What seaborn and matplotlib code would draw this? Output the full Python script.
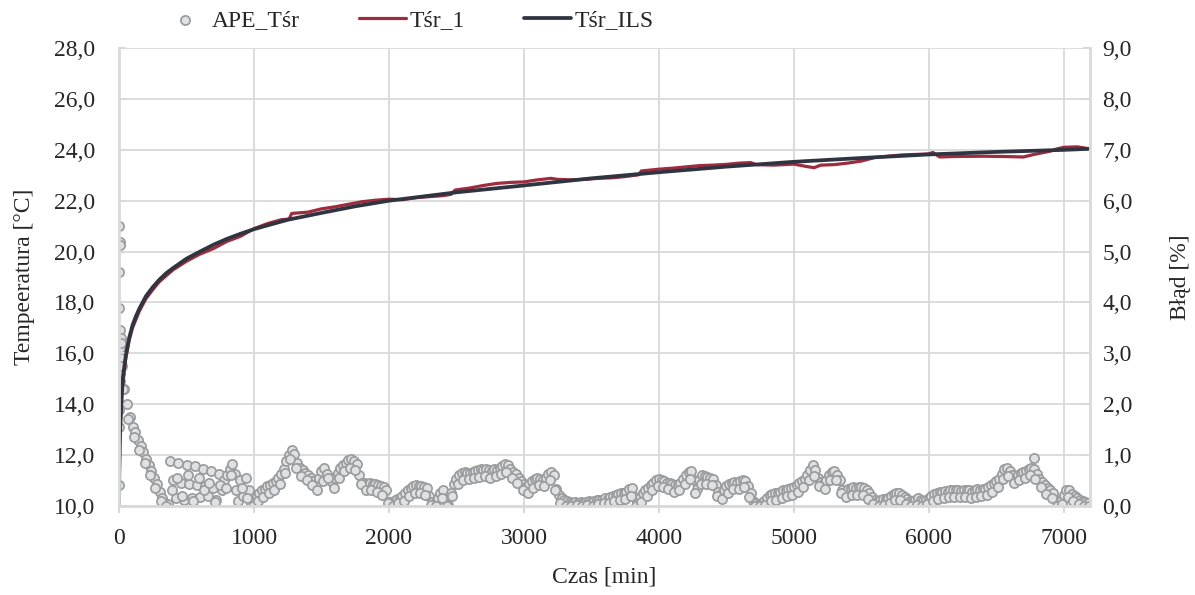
import numpy as np
import pandas as pd
import matplotlib
matplotlib.use('Agg')
import matplotlib.pyplot as plt
from matplotlib.ticker import FuncFormatter, MultipleLocator
import seaborn as sns

# Tśr_1 - measured mean temperature [°C] vs time [min]
t_meas = [0, 2, 5, 10, 20, 30, 50, 75, 100, 150, 200, 250, 300, 400, 500, 600, 700, 800, 900,
          1000, 1100, 1200, 1260, 1280, 1400, 1500, 1600, 1700, 1800, 1900, 2000, 2100, 2200,
          2300, 2400, 2460, 2490, 2600, 2700, 2800, 2900, 3000, 3100, 3200, 3250, 3350, 3450,
          3550, 3650, 3750, 3850, 3870, 4000, 4100, 4200, 4300, 4400, 4500, 4600, 4680, 4720,
          4850, 5000, 5100, 5150, 5200, 5300, 5400, 5500, 5600, 5700, 5800, 5900, 6000, 6030,
          6080, 6200, 6400, 6550, 6700, 6780, 6900, 6950, 7000, 7100, 7180]
temp_meas = [10.0, 11.1, 12.2, 13.1, 14.2, 14.95, 15.8, 16.5, 17.0, 17.65, 18.15, 18.5, 18.82,
             19.28, 19.62, 19.9, 20.12, 20.4, 20.6, 20.9, 21.1, 21.25, 21.28, 21.5, 21.55, 21.68,
             21.76, 21.86, 21.96, 22.02, 22.06, 22.04, 22.12, 22.16, 22.2, 22.25, 22.42, 22.5,
             22.6, 22.68, 22.72, 22.74, 22.82, 22.88, 22.84, 22.82, 22.84, 22.88, 22.9, 22.95,
             23.02, 23.17, 23.24, 23.28, 23.33, 23.38, 23.4, 23.43, 23.48, 23.5, 23.42, 23.4,
             23.44, 23.34, 23.3, 23.4, 23.42, 23.48, 23.56, 23.7, 23.75, 23.8, 23.82, 23.84,
             23.9, 23.72, 23.74, 23.75, 23.74, 23.72, 23.82, 23.95, 24.04, 24.1, 24.12, 24.05]

# Tśr_ILS - model temperature [°C]
t_ils = [0, 1, 2, 5, 10, 20, 30, 50, 75, 100, 125, 150, 200, 250, 300, 350, 400, 500, 600,
         700, 800, 900, 1000, 1100, 1250, 1500, 1750, 2000, 2500, 3000, 3500, 4000, 4500,
         5000, 5500, 6000, 6500, 7000, 7180]
temp_ils = [10.0, 10.6, 11.3, 12.4, 13.3, 14.4, 15.1, 15.9, 16.6, 17.1, 17.45, 17.75, 18.25,
            18.6, 18.9, 19.15, 19.35, 19.72, 20.0, 20.27, 20.5, 20.7, 20.88, 21.03, 21.25,
            21.52, 21.78, 22.0, 22.33, 22.6, 22.88, 23.12, 23.34, 23.53, 23.68, 23.82, 23.92,
            24.0, 24.04]

# APE_Tśr [%] - upper part of the band, every 20 min starting at 20 min
ape = [
    2.75, 2.3, 2.0, 1.75, 1.55, 1.45, 1.3, 1.18, 1.05, 0.92,
    0.8, 0.68, 0.55, 0.42, 0.28, 0.15, 0.05, 0.03, 0.88, 0.5,
    0.15, 0.85, 0.45, 0.12, 0.8, 0.42, 0.15, 0.78, 0.4, 0.18,
    0.72, 0.38, 0.2, 0.68, 0.35, 0.12, 0.62, 0.3, 0.5, 0.6,
    0.72, 0.82, 0.62, 0.1, 0.5, 0.2, 0.55, 0.3, 0.05, 0.08,
    0.18, 0.25, 0.3, 0.32, 0.38, 0.4, 0.45, 0.48, 0.55, 0.62,
    0.72, 0.88, 1.0, 1.1, 1.02, 0.85, 0.75, 0.7, 0.65, 0.6,
    0.55, 0.48, 0.42, 0.55, 0.68, 0.75, 0.62, 0.52, 0.47, 0.55,
    0.65, 0.75, 0.8, 0.85, 0.9, 0.92, 0.88, 0.82, 0.6, 0.45,
    0.44, 0.43, 0.45, 0.42, 0.43, 0.4, 0.38, 0.36, 0.3, 0.08,
    0.04, 0.1, 0.14, 0.16, 0.2, 0.25, 0.3, 0.35, 0.39, 0.4,
    0.39, 0.38, 0.36, 0.35, 0.2, 0.08, 0.06, 0.15, 0.25, 0.3,
    0.12, 0.02, 0.25, 0.42, 0.53, 0.6, 0.65, 0.66, 0.64, 0.65,
    0.66, 0.68, 0.7, 0.72, 0.7, 0.72, 0.7, 0.68, 0.72, 0.7,
    0.74, 0.78, 0.82, 0.8, 0.72, 0.66, 0.62, 0.55, 0.48, 0.42,
    0.39, 0.42, 0.48, 0.52, 0.55, 0.53, 0.5, 0.55, 0.62, 0.66,
    0.6, 0.33, 0.22, 0.15, 0.12, 0.1, 0.08, 0.06, 0.07, 0.06,
    0.07, 0.05, 0.08, 0.1, 0.08, 0.1, 0.12, 0.11, 0.12, 0.15,
    0.14, 0.18, 0.2, 0.22, 0.24, 0.26, 0.25, 0.28, 0.32, 0.35,
    0.18, 0.06, 0.15, 0.25, 0.3, 0.35, 0.4, 0.45, 0.5, 0.53,
    0.5, 0.48, 0.45, 0.45, 0.43, 0.41, 0.4, 0.45, 0.52, 0.6,
    0.66, 0.69, 0.5, 0.33, 0.5, 0.6, 0.58, 0.56, 0.55, 0.52,
    0.4, 0.28, 0.24, 0.3, 0.38, 0.42, 0.45, 0.46, 0.45, 0.48,
    0.5, 0.48, 0.38, 0.25, 0.1, 0.05, 0.03, 0.04, 0.1, 0.16,
    0.22, 0.24, 0.26, 0.25, 0.28, 0.3, 0.31, 0.33, 0.35, 0.36,
    0.4, 0.44, 0.48, 0.52, 0.6, 0.7, 0.8, 0.7, 0.55, 0.47,
    0.45, 0.5, 0.6, 0.66, 0.68, 0.6, 0.5, 0.3, 0.28, 0.32,
    0.35, 0.36, 0.35, 0.36, 0.37, 0.34, 0.3, 0.25, 0.18, 0.12,
    0.1, 0.12, 0.14, 0.13, 0.16, 0.2, 0.24, 0.26, 0.26, 0.22,
    0.18, 0.14, 0.1, 0.1, 0.12, 0.15, 0.12, 0.09, 0.12, 0.16,
    0.2, 0.24, 0.26, 0.27, 0.28, 0.29, 0.28, 0.3, 0.3, 0.31,
    0.3, 0.29, 0.3, 0.31, 0.3, 0.28, 0.3, 0.32, 0.31, 0.33,
    0.33, 0.36, 0.4, 0.44, 0.48, 0.52, 0.62, 0.72, 0.75, 0.68,
    0.6, 0.55, 0.6, 0.65, 0.67, 0.68, 0.72, 0.75, 0.72, 0.62,
    0.52, 0.47, 0.4, 0.34, 0.3, 0.25, 0.12, 0.04, 0.1, 0.22,
    0.3, 0.3, 0.24, 0.2, 0.15, 0.12, 0.1, 0.07, 0.06,
]
t_ape = 20 * np.arange(1, len(ape) + 1)

# APE_Tśr [%] - lower part of the band, every 40 min starting at 30 min
ape_lo = [
    2.3, 1.7, 1.35, 1.1, 0.85, 0.6, 0.35, 0.1, 0.0, 0.3,
    0.55, 0.2, 0.6, 0.1, 0.55, 0.3, 0.45, 0.08, 0.4, 0.35,
    0.6, 0.3, 0.35, 0.15, 0.0, 0.1, 0.18, 0.25, 0.3, 0.42,
    0.65, 0.92, 0.75, 0.58, 0.5, 0.4, 0.3, 0.48, 0.55, 0.35,
    0.55, 0.68, 0.75, 0.7, 0.42, 0.3, 0.3, 0.28, 0.22, 0.05,
    0.0, 0.05, 0.1, 0.2, 0.26, 0.25, 0.22, 0.02, 0.0, 0.15,
    0.0, 0.2, 0.42, 0.5, 0.52, 0.55, 0.56, 0.58, 0.55, 0.58,
    0.62, 0.66, 0.55, 0.45, 0.3, 0.26, 0.35, 0.4, 0.38, 0.5,
    0.3, 0.05, 0.0, 0.0, 0.01, 0.0, 0.02, 0.0, 0.03, 0.05,
    0.05, 0.1, 0.12, 0.14, 0.2, 0.0, 0.08, 0.2, 0.3, 0.38,
    0.36, 0.32, 0.28, 0.3, 0.42, 0.52, 0.25, 0.42, 0.42, 0.4,
    0.2, 0.14, 0.26, 0.32, 0.33, 0.36, 0.18, 0.0, 0.0, 0.02,
    0.1, 0.12, 0.16, 0.2, 0.22, 0.28, 0.36, 0.5, 0.58, 0.38,
    0.33, 0.5, 0.5, 0.25, 0.17, 0.22, 0.22, 0.22, 0.14, 0.03,
    0.0, 0.02, 0.06, 0.12, 0.12, 0.04, 0.0, 0.02, 0.0, 0.03,
    0.1, 0.14, 0.16, 0.17, 0.18, 0.17, 0.18, 0.16, 0.18, 0.2,
    0.22, 0.28, 0.36, 0.52, 0.58, 0.45, 0.5, 0.55, 0.6, 0.52,
    0.36, 0.24, 0.15, 0.0, 0.04, 0.18, 0.1, 0.03, 0.0, 0.0,
]
t_ape_lo = 30 + 40 * np.arange(len(ape_lo))

# scattered APE points in the first minutes + one outlier
t_ape_extra = [2, 4, 6, 3, 1, 10, 12, 8, 14, 5, 16, 7, 9, 1, 2, 1, 6780]
ape_extra = [5.5, 5.19, 5.13, 4.59, 3.88, 3.46, 3.3, 3.1, 2.9, 2.73, 3.2, 2.6, 2.45, 1.88,
             1.55, 0.41, 0.93]

df_ape = pd.DataFrame({'t': np.concatenate([t_ape_extra, t_ape, t_ape_lo]),
                       'ape': np.concatenate([ape_extra, ape, ape_lo])})

sns.set_theme(style='white')
plt.rcParams['font.family'] = ['Liberation Serif', 'DejaVu Serif']
fs = 17

fig = plt.figure(figsize=(11.95, 5.95), dpi=100)
ax = fig.add_axes([0.0996, 0.150, 0.8126, 0.769])
ax2 = ax.twinx()

# error scatter sits behind the temperature lines
ax.set_zorder(ax2.get_zorder() + 1)
ax.patch.set_visible(False)
ax2.patch.set_visible(True)
ax2.patch.set_facecolor('white')

sns.scatterplot(data=df_ape, x='t', y='ape', ax=ax2, s=44, color='#dfe1e2',
                edgecolor='#999d9f', linewidth=1.25, label='APE_Tśr', legend=False)

sns.lineplot(x=t_meas, y=temp_meas, ax=ax, color='#9e2b3e', lw=2.3, estimator=None,
             label='Tśr_1', legend=False)
sns.lineplot(x=t_ils, y=temp_ils, ax=ax, color='#2f3440', lw=2.7, estimator=None,
             label='Tśr_ILS', legend=False)

ax.set_xlim(0, 7195)
ax.set_ylim(10, 28)
ax2.set_ylim(0, 9)
ax.xaxis.set_major_locator(MultipleLocator(1000))
ax.yaxis.set_major_locator(MultipleLocator(2))
ax2.yaxis.set_major_locator(MultipleLocator(1))
comma = FuncFormatter(lambda v, p: f'{v:.1f}'.replace('.', ','))
ax.yaxis.set_major_formatter(comma)
ax2.yaxis.set_major_formatter(comma)
ax.xaxis.set_major_formatter(FuncFormatter(lambda v, p: f'{v:.0f}'))

# grid on the back axes
ax2.xaxis.set_visible(True)
ax2.set_xlabel('')
ax2.tick_params(axis='x', bottom=False, top=False, labelbottom=False, labeltop=False)
ax2.grid(True, axis='both', color='#d9d9d9', lw=1.3)
ax.grid(False)

for s in ax2.spines.values():
    s.set_visible(False)
ax.spines['top'].set_visible(False)
for name in ['left', 'bottom', 'right']:
    ax.spines[name].set_color('#d9d9d9')
    ax.spines[name].set_linewidth(2)

ax.tick_params(axis='x', direction='out', length=5, width=1.5, color='#d9d9d9', pad=11,
               labelsize=fs, bottom=True)
ax.tick_params(axis='y', direction='in', length=5, width=1.5, color='#d9d9d9', pad=17,
               labelsize=fs, left=True)
ax2.tick_params(axis='y', direction='in', length=5, width=1.5, color='#d9d9d9', pad=9,
                labelsize=fs, right=True)

ax.set_xlabel('Czas [min]', fontsize=fs)
ax.set_ylabel('Tempeeratura [°C]', fontsize=fs)
ax2.set_ylabel('Błąd [%]', fontsize=fs)
ax.xaxis.set_label_coords(0.5, -0.132)
ax.yaxis.set_label_coords(-0.0866, 0.5)
ax2.yaxis.set_label_coords(1.082, 0.5)

h2, l2 = ax2.get_legend_handles_labels()
h1, l1 = ax.get_legend_handles_labels()
fig.legend(h2 + h1, l2 + l1, loc='center left', bbox_to_anchor=(0.117, 0.966), ncol=3,
           frameon=False, handlelength=2.0, handletextpad=0.15, columnspacing=2.5,
           scatterpoints=1, fontsize=fs)

fig.savefig('out.png', dpi=100)
